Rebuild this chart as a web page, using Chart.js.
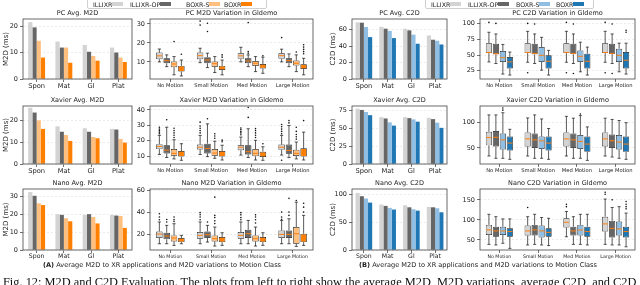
<!DOCTYPE html>
<html>
<head>
<meta charset="utf-8">
<script src="https://cdn.jsdelivr.net/npm/chart.js@4.4.0/dist/chart.umd.min.js"></script>
<style>
  body { margin:0; width:640px; height:285px; overflow:hidden; background:#fff; position:relative; font-family:"DejaVu Sans",sans-serif; color:#222; }
  .box { position:absolute; }
  .legend { position:absolute; top:-3px; height:10px; border:1px solid #cfcfcf; border-radius:2px; font-size:6.3px; }
  .legend span.it { position:absolute; top:3px; line-height:7px; white-space:nowrap; }
  .legend i { display:inline-block; width:11px; height:4px; vertical-align:1px; }
  .cap { position:absolute; top:261px; font-size:6.6px; white-space:nowrap; }
  #fig { position:absolute; left:3px; top:276px; font-family:"Liberation Serif",serif; font-size:12px; line-height:12px; white-space:nowrap; color:#111; }
</style>
</head>
<body>
<script>
// ---- data ----
const series = ['ILLIXR', 'ILLIXR-OP', 'BOXR-S', 'BOXR'];
const apps = ['Spon', 'Mat', 'Gl', 'Plat'];
const motions = ['No Motion', 'Small Motion', 'Med Motion', 'Large Motion'];

// average bars: [series][app]
const pcM2dAvg     = [[21.7, 14.3, 13.0, 12.0], [19.7, 12.0, 10.4, 10.1], [14.6, 12.0, 8.8, 8.2], [8.2, 6.2, 7.0, 6.5]];
const xavierM2dAvg = [[25.8, 17.3, 16.4, 16.1], [23.6, 14.8, 14.8, 15.8], [20.0, 13.3, 12.4, 11.5], [16.1, 10.6, 11.8, 9.8]];
const nanoM2dAvg   = [[32.5, 20.1, 19.7, 19.7], [30.4, 19.7, 20.1, 19.3], [26.2, 17.8, 18.5, 19.1], [25.2, 16.1, 14.9, 12.4]];
const pcC2dAvg     = [[69.0, 63.5, 61.2, 53.0], [68.5, 61.2, 59.2, 47.8], [63.3, 58.5, 53.9, 46.5], [51.0, 49.8, 42.9, 42.0]];
const xavierC2dAvg = [[77.3, 65.5, 65.5, 64.5], [75.5, 63.6, 64.1, 62.7], [72.7, 58.2, 62.3, 57.7], [68.2, 53.6, 59.1, 50.5]];
const nanoC2dAvg   = [[103, 82.0, 80.7, 77.7], [97.0, 79.5, 77.0, 77.0], [92.8, 76.0, 73.5, 75.3], [85.5, 73.0, 71.0, 68.0]];

// box stats: [series][motion] = [low whisker, q1, median, q3, high whisker]
const pcM2dBox = [
  [[10, 11.4, 13.2, 14.9, 16.8], [9.6, 11.4, 13.3, 14.9, 17.2], [10, 11.6, 13.2, 14.6, 17.7], [10, 11.6, 13.3, 14.6, 16.7]],
  [[7.5, 9.3, 10.7, 11.9, 13.7], [7, 9.3, 11, 12.5, 14.6], [7.5, 9.3, 10.5, 11.9, 13.7], [7.5, 9.3, 10.7, 11.9, 14.2]],
  [[3.2, 7.2, 8.9, 10.2, 12.8], [4.4, 7.5, 9.1, 10.2, 12.8], [4.9, 7.9, 9.3, 10.5, 12.8], [4.9, 8.1, 9.3, 10.7, 13.7]],
  [[2.6, 4.9, 6.7, 7.9, 11], [3.2, 5.8, 6.8, 7.9, 11], [4, 6.5, 7.5, 8.9, 12.5], [3.2, 6.3, 7.5, 8.8, 11.9]]
];
const pcM2dFliers = [
  [[], [31.5, 29.4], [], [22.8]],
  [[], [30.4, 26], [30.7, 15.4, 14.6], []],
  [[20.7], [], [], [15.2]],
  [[14], [13.7, 12.5], [13.2], [19, 17.8, 16.6, 15.4, 14.3]]
];
const xavierM2dBox = [
  [[11, 14.5, 16.2, 17.7, 23.4], [11, 14.3, 15.7, 17.4, 23.4], [10.6, 13.8, 15.7, 17, 22.3], [10.6, 14, 15.7, 17.4, 23.4]],
  [[9, 11.7, 13.8, 17, 28.7], [9.6, 11.7, 14.9, 18, 30.9], [9, 11, 12.8, 17, 27.7], [9, 11.5, 13.6, 17.4, 29.8]],
  [[8.1, 10.2, 11.7, 14.5, 20.6], [8.5, 10.2, 11.9, 14.5, 19.6], [7.4, 9.8, 11.7, 14.5, 20.2], [8.1, 10, 11.7, 14, 19.1]],
  [[7.2, 9.6, 11.5, 13.2, 18], [7.4, 9.6, 11.3, 13.2, 17], [7.2, 9.4, 11.1, 12.8, 16], [7.4, 9.6, 11.7, 15, 25.5]]
];
const xavierM2dFliers = [
  [[24.5, 25.5, 26.5, 27.5, 28.7], [25, 26.5, 28, 29.5, 32], [23.8, 25, 26, 27.2, 28.2], [24.5, 26, 27.5, 29, 30.5, 7.2]],
  [[33.6], [34.2], [41.5, 35.1], [31.5, 33]],
  [[22, 23.5, 25, 26.5, 28], [21.5, 23, 24.5], [22, 23.5, 25, 26.5, 27.8], [21, 22.5, 24, 26, 28.7]],
  [[], [19.3, 20.3], [18], [33]]
];
const nanoM2dBox = [
  [[11.2, 16.4, 20, 22.4, 31], [11.2, 15.8, 18.8, 21.8, 31], [11.2, 15.8, 18.8, 21.8, 31], [11.2, 16.4, 19.7, 23.3, 32.4]],
  [[11.2, 15.2, 18.2, 21.2, 27.9], [12.7, 16.4, 19.4, 22.4, 27.9], [11.2, 16.4, 20.3, 23.9, 32.4], [11.2, 16.4, 19.7, 23.3, 33.9]],
  [[9.7, 13.3, 16.4, 18.8, 29.4], [9.1, 13.3, 15.8, 18.8, 26.4], [9.1, 13.3, 15.8, 18.8, 26.4], [8.8, 11.2, 20.3, 26.4, 49]],
  [[11.2, 12.7, 14.2, 16.4, 18.8], [9.7, 12.7, 14.8, 17.3, 21.2], [9.7, 12.7, 14.8, 17.3, 21.2], [9.7, 12.7, 17.3, 20.3, 37]]
];
const nanoM2dFliers = [
  [[33, 35.5, 38.5], [33, 35.5, 37.6, 39.5], [33, 35, 37.5, 39.5], [33.5, 35.5, 40]],
  [[31, 33.3], [31], [], [37, 40, 52.5]],
  [[31.5, 33.3, 35.5], [29.5, 32, 35, 37, 53.6], [30, 33, 35.5, 37.5], [50.6]],
  [[], [], [], [40, 44.5, 48]]
];
const pcC2dBox = [
  [[39, 53, 54, 68.7, 86], [38.5, 53, 54, 68.7, 87.5], [38.5, 53, 54, 68.7, 87.5], [38.5, 53, 54, 68.7, 87.5]],
  [[36.5, 51, 52, 67.7, 83.3], [36.5, 51, 52.5, 67.7, 83.3], [36.5, 51, 52.5, 67.7, 83.3], [36.5, 51.5, 52.5, 67.7, 83.3]],
  [[19.8, 39, 45.8, 56.3, 66.7], [26, 39, 49.5, 62.5, 78], [23.4, 39, 47.9, 57.3, 70.3], [23.4, 39, 49.5, 60, 68.7]],
  [[18.2, 28.6, 39, 46.9, 54.7], [18.2, 28.6, 40.1, 49.5, 57.3], [18.2, 28.6, 40.1, 52, 62.5], [19.8, 28.6, 41.7, 54.7, 68.7]]
];
const pcC2dFliers = [
  [[101.6], [100, 22], [101.6, 22], [101.6, 22]],
  [[100], [99], [99, 20.8], [99, 20.8]],
  [[], [], [], []],
  [[], [], [], [86, 89]]
];
const xavierC2dBox = [
  [[34.4, 55, 70, 81.3, 113.8], [34.4, 53, 67.5, 80, 108], [34.4, 53, 67.5, 80, 111], [34.4, 53, 67.5, 80, 107.5]],
  [[30, 53, 70.6, 82.5, 113.8], [30, 50, 65.6, 78, 113.8], [30, 50, 65.6, 78, 107.5], [32.5, 50, 63.8, 76, 105]],
  [[30, 47, 65.6, 78, 118], [30, 48, 63.8, 72, 106], [30, 48, 62.5, 75, 112.5], [30, 47, 61.3, 75, 103]],
  [[28, 45, 59.4, 72, 86], [28, 45, 59.4, 72, 87.5], [26, 42.5, 57.5, 72, 90.6], [28, 42.5, 57.5, 72, 98.8]]
];
const xavierC2dFliers = [
  [[], [], [], []],
  [[], [], [], []],
  [[123, 127], [], [115.6], []],
  [[], [], [], []]
];
const nanoC2dBox = [
  [[39, 62.5, 75, 87.5, 114], [37.5, 61, 72.5, 86, 108], [58, 81, 94, 104, 121], [39, 71, 90, 108, 152]],
  [[37.5, 58, 72.5, 83, 108], [39, 61, 75, 87.5, 114], [39, 61, 72.5, 83, 108], [37.5, 56, 79, 97.5, 131]],
  [[41.7, 62.5, 72.5, 83, 102.5], [37.5, 56, 72.5, 86, 106], [39, 61, 75, 87.5, 114], [37.5, 61, 77.5, 96, 133]],
  [[29, 58, 71, 79, 102.5], [36, 58, 69, 79, 104], [37.5, 58, 71, 83, 114], [33, 56, 71, 83, 117]]
];
const nanoC2dFliers = [
  [[], [131], [133, 139], [164, 169]],
  [[], [], [], [150]],
  [[], [], [], []],
  [[], [], [], [127.5, 133, 139, 146]]
];

// tick labels
const m2dAvgTicks = [[0, 10, 20], [0, 10, 20], [0, 10, 20, 30]];
const m2dBoxTicks = [[10, 20, 30], [10, 20, 30, 40], [20, 40, 60]];
const c2dAvgTicks = [[0, 20, 40, 60], [0, 25, 50, 75], [0, 50, 100]];
const c2dBoxTicks = [[25, 50, 75, 100], [50, 100], [50, 100, 150]];

// ---- style ----
const FONT = 'DejaVu Sans';
const TXT = '#222';
const grayL = '#d3d3d3', grayD = '#666666';
const m2dColors = [grayL, grayD, '#ffbf7f', '#ff8000'];
const c2dColors = [grayL, grayD, '#90bfe3', '#1f77b4'];
const TH = 10, XH = 12, PR = 4;

Chart.defaults.font.family = FONT;

const frame = {
  id: 'frame',
  afterDraw(chart) {
    const a = chart.chartArea, ctx = chart.ctx;
    ctx.save();
    ctx.strokeStyle = '#444';
    ctx.lineWidth = 0.8;
    ctx.strokeRect(a.left, a.top, a.right - a.left, a.bottom - a.top);
    ctx.restore();
  }
};

// whiskers, caps, medians and fliers drawn on top of the floating-bar boxes
function whiskers(stats, fliers) {
  return {
    id: 'whiskers',
    afterDatasetsDraw(chart) {
      const y = chart.scales.y, ctx = chart.ctx;
      ctx.save();
      stats.forEach((ser, i) => {
        const meta = chart.getDatasetMeta(i);
        ser.forEach((s, j) => {
          const el = meta.data[j];
          const x = el.x, w = el.width;
          const [lo, q1, med, q3, hi] = s;
          ctx.strokeStyle = '#111';
          ctx.lineWidth = 0.7;
          ctx.beginPath();
          ctx.moveTo(x, y.getPixelForValue(q3)); ctx.lineTo(x, y.getPixelForValue(hi));
          ctx.moveTo(x, y.getPixelForValue(q1)); ctx.lineTo(x, y.getPixelForValue(lo));
          ctx.moveTo(x - w / 4, y.getPixelForValue(hi)); ctx.lineTo(x + w / 4, y.getPixelForValue(hi));
          ctx.moveTo(x - w / 4, y.getPixelForValue(lo)); ctx.lineTo(x + w / 4, y.getPixelForValue(lo));
          ctx.stroke();
          ctx.strokeStyle = '#ff7f0e';
          ctx.lineWidth = 1;
          ctx.beginPath();
          ctx.moveTo(x - w / 2 + 0.5, y.getPixelForValue(med)); ctx.lineTo(x + w / 2 - 0.5, y.getPixelForValue(med));
          ctx.stroke();
          ctx.fillStyle = '#111';
          fliers[i][j].forEach(v => {
            ctx.beginPath();
            ctx.arc(x, y.getPixelForValue(v), 0.8, 0, Math.PI * 2);
            ctx.fill();
          });
        });
      });
      ctx.restore();
    }
  };
}

function place(x0, y0, x1, y1, yw) {
  const d = document.createElement('div');
  d.className = 'box';
  const w = x1 - x0 + yw + PR, h = y1 - y0 + TH + XH;
  d.style.left = (x0 - yw) + 'px';
  d.style.top = (y0 - TH) + 'px';
  d.style.width = w + 'px';
  d.style.height = h + 'px';
  const c = document.createElement('canvas');
  c.width = w; c.height = h;
  c.style.width = w + 'px'; c.style.height = h + 'px';
  d.appendChild(c);
  document.body.appendChild(d);
  return c;
}

function yAxis(min, max, ticks, yw, title, tpad) {
  return {
    type: 'linear', min: min, max: max,
    afterBuildTicks: s => { s.ticks = ticks.map(v => ({ value: v })); },
    afterFit: s => { s.width = yw; },
    grid: { color: '#dedede', lineWidth: 0.6, tickColor: '#333', tickLength: 3, tickWidth: 0.7 },
    border: { display: false, dash: [2, 2] },
    ticks: { font: { size: 6.5 }, color: TXT, padding: 2 },
    title: title ? { display: true, text: title, font: { size: 7 }, color: TXT, padding: { top: tpad, bottom: 0 } } : { display: false }
  };
}

function xAxis(labels, size, pad) {
  return {
    type: 'category', labels: labels, offset: true,
    afterFit: s => { s.height = XH; },
    grid: { display: true, drawOnChartArea: false, drawTicks: true, tickLength: 3, tickColor: '#333', tickWidth: 0.7, offset: false },
    border: { display: false },
    ticks: { font: { size: size }, color: TXT, padding: pad, autoSkip: false, maxRotation: 0 }
  };
}

function baseOptions(title, x, y) {
  return {
    responsive: false, animation: false, events: [],
    layout: { padding: { left: 0, right: PR, top: 0, bottom: 0 } },
    plugins: {
      legend: { display: false }, tooltip: { enabled: false },
      title: { display: true, text: title, fullSize: false, font: { size: 6.5, weight: 'normal' }, color: TXT, padding: { top: 0, bottom: TH - 7.8 } }
    },
    scales: { x: x, y: y }
  };
}

function avgChart(pos, title, values, colors, min, max, ticks, yTitle, tpad, pct, xSize) {
  const c = place(pos[0], pos[1], pos[2], pos[3], pos[4]);
  new Chart(c, {
    type: 'bar',
    data: {
      labels: apps,
      datasets: values.map((v, i) => ({
        label: series[i], data: v, backgroundColor: colors[i], borderWidth: 0,
        barPercentage: 1.0, categoryPercentage: pct
      }))
    },
    options: baseOptions(title, xAxis(apps, xSize, 0), yAxis(min, max, ticks, pos[4], yTitle, tpad)),
    plugins: [frame]
  });
}

function boxChart(pos, title, stats, fliers, colors, min, max, ticks, xSize) {
  const c = place(pos[0], pos[1], pos[2], pos[3], pos[4]);
  new Chart(c, {
    type: 'bar',
    data: {
      labels: motions,
      datasets: stats.map((ser, i) => ({
        label: series[i], data: ser.map(s => [s[1], s[3]]), backgroundColor: colors[i],
        borderColor: '#111', borderWidth: 0.7, borderSkipped: false,
        barPercentage: 0.88, categoryPercentage: 0.72
      }))
    },
    options: baseOptions(title, xAxis(motions, xSize, 1), yAxis(min, max, ticks, pos[4], null, 0)),
    plugins: [whiskers(stats, fliers), frame]
  });
}

// plot rectangles: [left, top, right, bottom, y-axis width]
const rows = [[19, 79], [106, 164], [189, 250]];
const names = ['PC', 'Xavier', 'Nano'];
const m2dAvg = [pcM2dAvg, xavierM2dAvg, nanoM2dAvg];
const c2dAvg = [pcC2dAvg, xavierC2dAvg, nanoC2dAvg];
const m2dBox = [pcM2dBox, xavierM2dBox, nanoM2dBox];
const m2dFl = [pcM2dFliers, xavierM2dFliers, nanoM2dFliers];
const c2dBox = [pcC2dBox, xavierC2dBox, nanoC2dBox];
const c2dFl = [pcC2dFliers, xavierC2dFliers, nanoC2dFliers];
const m2dAvgMax = [22.9, 26.6, 34.2];
const c2dAvgMax = [73, 81, 110];
const m2dBoxRange = [[1, 32.6], [4.8, 42.5], [5.5, 61]];
const c2dBoxRange = [[12, 107], [19, 131], [25, 177]];

rows.forEach((r, k) => {
  const xs = k === 2 ? 6.2 : 6.7;
  const bs = k === 2 ? 4.7 : 5.2;
  avgChart([23, r[0], 132, r[1], 23], names[k] + ' Avg. M2D', m2dAvg[k], m2dColors, 0, m2dAvgMax[k], m2dAvgTicks[k], 'M2D (ms)', 1.8, 0.62, xs);
  boxChart([150, r[0], 313, r[1], 16], names[k] + ' M2D Variation in Gldemo', m2dBox[k], m2dFl[k], m2dColors, m2dBoxRange[k][0], m2dBoxRange[k][1], m2dBoxTicks[k], bs);
  avgChart([352, r[0], 447, r[1], 26], names[k] + ' Avg. C2D', c2dAvg[k], c2dColors, 0, c2dAvgMax[k], c2dAvgTicks[k], 'C2D (ms)', 2.8, 0.7, xs);
  boxChart([480, r[0], 635, r[1], 20], names[k] + ' C2D Variation in Gldemo', c2dBox[k], c2dFl[k], c2dColors, c2dBoxRange[k][0], c2dBoxRange[k][1], c2dBoxTicks[k], bs);
});

// legends (label first, patch after)
function legend(left, width, colors, lefts) {
  const d = document.createElement('div');
  d.className = 'legend';
  d.style.left = left + 'px';
  d.style.width = width + 'px';
  series.forEach((s, i) => {
    const it = document.createElement('span');
    it.className = 'it';
    it.style.left = (lefts[i] - left) + 'px';
    it.innerHTML = s + '<i style="background:' + colors[i] + '"></i>';
    d.appendChild(it);
  });
  document.body.appendChild(d);
}
legend(87, 178, m2dColors, [92, 129, 185, 223]);
legend(425, 167, c2dColors, [430, 467, 515, 555]);

function caption(center, tag) {
  const d = document.createElement('div');
  d.className = 'cap';
  d.innerHTML = '<b>' + tag + '</b> Average M2D to XR applications and M2D variations to Motion Class';
  document.body.appendChild(d);
  d.style.left = (center - d.getBoundingClientRect().width / 2) + 'px';
}
caption(162, '(A)');
caption(478, '(B)');

const fig = document.createElement('div');
fig.id = 'fig';
fig.textContent = 'Fig. 12: M2D and C2D Evaluation. The plots from left to right show the average M2D, M2D variations, average C2D, and C2D';
document.body.appendChild(fig);
const fw = fig.getBoundingClientRect().width;
fig.style.fontSize = (12 * 634 / fw) + 'px';
</script>
</body>
</html>
